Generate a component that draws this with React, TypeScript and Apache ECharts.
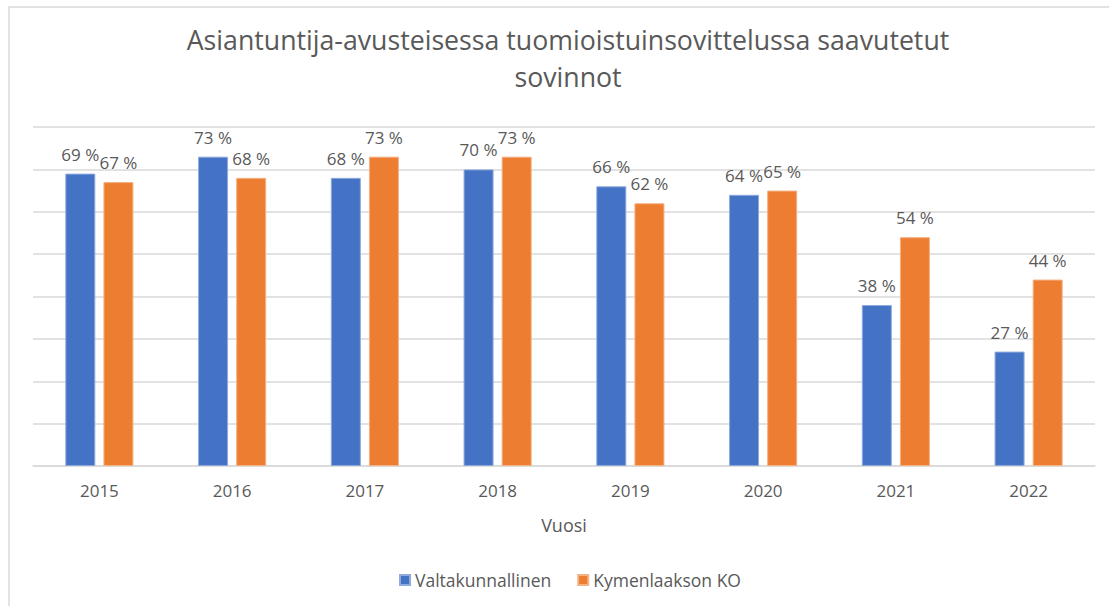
import React, { useEffect, useRef } from "react";
import * as echarts from "echarts";

const titleText = "Asiantuntija-avusteisessa tuomioistuinsovittelussa saavutetut\nsovinnot";
const years = ["2015", "2016", "2017", "2018", "2019", "2020", "2021", "2022"];
const valtakunnallinen = [69, 73, 68, 70, 66, 64, 38, 27];
const kymenlaakso = [67, 68, 73, 73, 62, 65, 54, 44];
const seriesNames = ["Valtakunnallinen", "Kymenlaakson KO"];
const xAxisName = "Vuosi";

const FONT = "'Open Sans', Lato, sans-serif";
const TEXT = "#595959";

export default function App() {
  const ref = useRef<HTMLDivElement>(null);
  useEffect(() => {
    if (!ref.current) return;
    const chart = echarts.init(ref.current, null, { renderer: "svg" });
    const label = {
      show: true,
      position: "top" as const,
      distance: 11,
      formatter: "{c} %",
      color: TEXT,
      fontSize: 17,
      fontFamily: FONT,
    };
    chart.setOption({
      animation: false,
      backgroundColor: "#ffffff",
      textStyle: { fontFamily: FONT },
      title: {
        text: titleText,
        left: 563,
        top: 16,
        textAlign: "center",
        textStyle: {
          color: TEXT,
          fontSize: 26.7,
          fontWeight: "normal",
          fontFamily: FONT,
          lineHeight: 37,
        },
      },
      graphic: [
        {
          type: "rect",
          shape: { x: 9, y: 7, width: 1120, height: 620 },
          style: { fill: "none", stroke: "#D9D9D9", lineWidth: 1.5 },
          silent: true,
        },
      ],
      legend: {
        bottom: 12,
        left: 394,
        itemWidth: 10,
        itemHeight: 10,
        itemGap: 26,
        icon: "rect",
        textStyle: { color: TEXT, fontSize: 17.5, fontFamily: FONT },
        data: seriesNames,
      },
      grid: { left: 33, right: 14, top: 127, bottom: 140 },
      xAxis: {
        type: "category",
        data: years,
        name: xAxisName,
        nameLocation: "middle",
        nameGap: 50,
        nameTextStyle: { color: TEXT, fontSize: 18, fontFamily: FONT },
        axisLine: { lineStyle: { color: "#D9D9D9", width: 1.5 } },
        axisTick: { show: false },
        axisLabel: { color: TEXT, fontSize: 17, margin: 16, fontFamily: FONT },
      },
      yAxis: {
        type: "value",
        min: 0,
        max: 80,
        interval: 10,
        axisLabel: { show: false },
        axisLine: { show: false },
        axisTick: { show: false },
        splitLine: { lineStyle: { color: "#D9D9D9", width: 1.5 } },
      },
      series: [
        {
          name: seriesNames[0],
          type: "bar",
          data: valtakunnallinen,
          barWidth: 30,
          barGap: "27%",
          itemStyle: { color: "#4472C4", borderColor: "#8FAADC", borderWidth: 1 },
          label,
        },
        {
          name: seriesNames[1],
          type: "bar",
          data: kymenlaakso,
          barWidth: 30,
          itemStyle: { color: "#ED7D31", borderColor: "#F4B183", borderWidth: 1 },
          label,
        },
      ],
    });
    return () => chart.dispose();
  }, []);
  return (
    <div
      ref={ref}
      style={{ position: "absolute", left: 0, top: 0, width: 1109, height: 606 }}
    />
  );
}
